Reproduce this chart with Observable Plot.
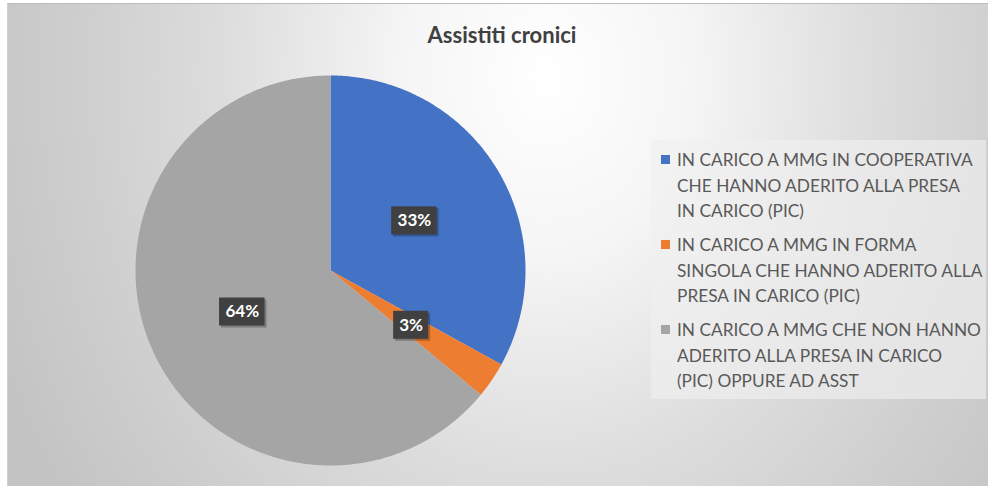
<!DOCTYPE html>
<html>
<head>
<meta charset="utf-8">
<script src="https://cdn.jsdelivr.net/npm/d3@7"></script>
<script src="https://cdn.jsdelivr.net/npm/@observablehq/plot@0.6"></script>
<style>
  html, body { margin: 0; padding: 0; background: #fff; }
  #wrap { position: relative; width: 988px; height: 486px; overflow: hidden; background: #fff; }
  #chart { position: absolute; left: 7px; top: 3px; width: 981px; height: 483px;
    background: radial-gradient(ellipse 60% 150% at 55% 15%, #ffffff 0%, #f5f5f5 25%, #dddddd 55%, #cfcfcf 78%, #c4c4c4 100%);
    border-top: 1px solid #bdbdbd; border-left: 1px solid #d0d0d0; box-sizing: border-box; }
  #plot { position: absolute; left: 0; top: 0; }
  #title { position: absolute; left: 8px; width: 988px; top: 21px; text-align: center;
    font-family: Lato, "Open Sans", sans-serif; font-weight: bold; font-size: 22px; color: #404040; }
  #legend { position: absolute; left: 651px; top: 140px; width: 335px; height: 259px;
    background: rgba(240,240,240,0.65); }
  .item { position: absolute; left: 26px; font-family: Lato, "Open Sans", sans-serif; font-size: 17.3px;
    line-height: 25.5px; color: #595959; white-space: pre; }
  .sw { position: absolute; left: -16px; top: 8px; width: 9px; height: 9px; }
</style>
</head>
<body>
<div id="wrap">
  <div id="chart"></div>
  <div id="plot"></div>
  <div id="title"></div>
  <div id="legend"></div>
</div>
<script>
const title = "Assistiti cronici";
const categories = [
  "IN CARICO A MMG IN COOPERATIVA\nCHE HANNO ADERITO ALLA PRESA\nIN CARICO (PIC)",
  "IN CARICO A MMG IN FORMA\nSINGOLA CHE HANNO ADERITO ALLA\nPRESA IN CARICO (PIC)",
  "IN CARICO A MMG CHE NON HANNO\nADERITO ALLA PRESA IN CARICO\n(PIC) OPPURE AD ASST"
];
const values = [33, 3, 64];
const labels = ["33%", "3%", "64%"];
const colors = ["#4472C4", "#ED7D31", "#A5A5A5"];

const W = 988, H = 486, cx = 330, cy = 270, R = 195;

const arcs = d3.pie().sort(null).value(d => d)(values);
const poly = [];
arcs.forEach((a, i) => {
  const n = Math.max(4, Math.ceil((a.endAngle - a.startAngle) / 0.01));
  poly.push({i, x: cx, y: cy});
  for (let k = 0; k <= n; k++) {
    const t = a.startAngle + (a.endAngle - a.startAngle) * k / n;
    poly.push({i, x: cx + R * Math.sin(t), y: cy - R * Math.cos(t)});
  }
});
const lab = arcs.map((a, i) => {
  const m = (a.startAngle + a.endAngle) / 2;
  return {i, text: labels[i], x: cx + 0.5 * R * Math.sin(m), y: cy - 0.5 * R * Math.cos(m)};
});
const bw = d => (d.text.length * 10.5 + 14) / 2;

const plot = Plot.plot({
  width: W, height: H, margin: 0,
  x: {domain: [0, W], range: [0, W], axis: null},
  y: {domain: [0, H], range: [0, H], axis: null},
  style: {background: "transparent", overflow: "visible"},
  marks: [
    ...arcs.map((a, i) => Plot.line(poly.filter(d => d.i === i),
      {x: "x", y: "y", fill: colors[i], stroke: "none", curve: "linear-closed"})),
    Plot.rect(lab, {x1: d => d.x - bw(d) + 2, x2: d => d.x + bw(d) + 2,
      y1: d => d.y - 14 + 2, y2: d => d.y + 14 + 2, fill: "#000", fillOpacity: 0.25}),
    Plot.rect(lab, {x1: d => d.x - bw(d), x2: d => d.x + bw(d),
      y1: d => d.y - 14, y2: d => d.y + 14, fill: "#404040"}),
    Plot.text(lab, {x: "x", y: "y", text: "text", fill: "#ffffff", fontSize: 17, fontWeight: "bold",
      fontFamily: "Lato, 'Open Sans', sans-serif"})
  ]
});
document.getElementById("plot").appendChild(plot);
document.getElementById("title").textContent = title;

const leg = document.getElementById("legend");
categories.forEach((c, i) => {
  const it = document.createElement("div");
  it.className = "item";
  it.style.top = (7 + i * 85) + "px";
  it.textContent = c;
  const sw = document.createElement("div");
  sw.className = "sw";
  sw.style.background = colors[i];
  it.appendChild(sw);
  leg.appendChild(it);
});
</script>
</body>
</html>
